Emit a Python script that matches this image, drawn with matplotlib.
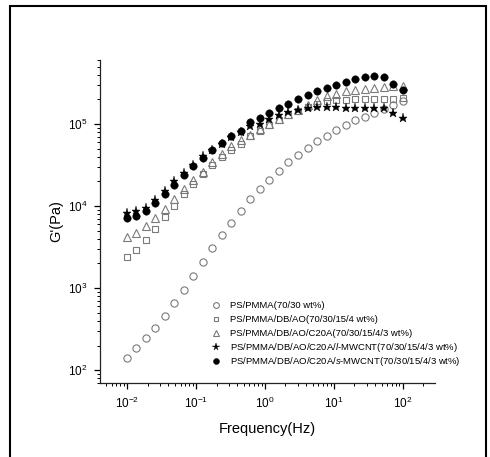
import matplotlib
matplotlib.use("Agg")
import matplotlib.pyplot as plt
from matplotlib.patches import Rectangle
from matplotlib.ticker import LogLocator, NullFormatter

plt.rcParams["font.family"] = ["Liberation Sans", "DejaVu Sans"]
plt.rcParams["mathtext.fontset"] = "custom"
plt.rcParams["mathtext.rm"] = "Liberation Sans"
plt.rcParams["mathtext.it"] = "Liberation Sans:italic"
plt.rcParams["mathtext.default"] = "regular"

# Frequency sweep (Hz)
freq = [0.01, 0.0137, 0.0189, 0.0259, 0.0356, 0.0489, 0.0672, 0.0924, 0.127, 0.174,
        0.239, 0.329, 0.452, 0.621, 0.853, 1.17, 1.61, 2.21, 3.04, 4.18,
        5.74, 7.88, 10.8, 14.9, 20.4, 28.1, 38.6, 53.0, 72.8, 100]

# Storage modulus G' (Pa)
g_blend = [143, 189, 245, 328, 460, 657, 955, 1410, 2090, 3080,
           4430, 6210, 8780, 12200, 16000, 20800, 27000, 34100, 41500, 50500,
           61500, 72100, 84500, 96300, 110800, 122800, 136100, 150900, 170500, 189000]
g_dbao = [2370, 2930, 3880, 5190, 7270, 9920, 14000, 18700, 24800, 31300,
          39200, 48600, 57500, 70800, 81500, 96300, 110800, 127600, 142700, 161000,
          175300, 189000, 198000, 198000, 202000, 202000, 202000, 202000, 202000, 210000]
g_c20a = [4190, 4690, 5650, 7140, 9190, 12200, 16300, 20900, 26000, 34400,
          43000, 53400, 63900, 74200, 87000, 101000, 116000, 133600, 149500, 172000,
          198000, 217500, 234400, 250300, 262300, 265000, 272300, 280000, 287700, 293000]
g_lmwcnt = [8230, 8610, 9460, 11900, 15100, 20000, 25300, 31900, 40300, 48700,
            57500, 69400, 79100, 93700, 101000, 115000, 130000, 138800, 149500, 156800,
            161000, 161000, 161000, 158000, 157000, 155000, 155000, 155000, 136000, 118000]
g_smwcnt = [7140, 7490, 8610, 10900, 14000, 18200, 24100, 30500, 38100, 47800,
            58700, 72100, 83000, 105800, 118400, 136100, 156800, 177200, 203600, 228000,
            250300, 274800, 301700, 328300, 353800, 374300, 388400, 370700, 307800, 262300]

labels = [
    "PS/PMMA(70/30 wt%)",
    "PS/PMMA/DB/AO(70/30/15/4 wt%)",
    "PS/PMMA/DB/AO/C20A(70/30/15/4/3 wt%)",
    r"PS/PMMA/DB/AO/C20A/$\mathit{l}$-MWCNT(70/30/15/4/3 wt%)",
    r"PS/PMMA/DB/AO/C20A/$\mathit{s}$-MWCNT(70/30/15/4/3 wt%)",
]

fig = plt.figure(figsize=(4.9, 4.57), dpi=100)
ax = fig.add_axes([100 / 490, 1 - 383 / 457, 335 / 490, 323 / 457])

grey = "#7a7a7a"
styles = [
    dict(marker="o", mfc="none", mec=grey, ms=5.2, mew=0.8),
    dict(marker="s", mfc="none", mec=grey, ms=4.4, mew=0.8),
    dict(marker="^", mfc="none", mec=grey, ms=5.4, mew=0.8),
    dict(marker="*", mfc="black", mec="black", ms=6.8, mew=0.3),
    dict(marker="o", mfc="black", mec="black", ms=5.4, mew=0.3),
]
data = [g_blend, g_dbao, g_c20a, g_lmwcnt, g_smwcnt]
for vals, style in zip(data, styles):
    ax.plot(freq, vals, linestyle="none", **style)

ax.set_xscale("log")
ax.set_yscale("log")
ax.set_xlim(10 ** -2.39, 10 ** 2.47)
ax.set_ylim(10 ** 1.845, 10 ** 5.78)

for s in ("top", "right"):
    ax.spines[s].set_visible(False)
for s in ("left", "bottom"):
    ax.spines[s].set_linewidth(0.9)
    ax.spines[s].set_color("#222222")

ax.xaxis.set_major_locator(LogLocator(base=10, numticks=20))
ax.yaxis.set_major_locator(LogLocator(base=10, numticks=20))
ax.xaxis.set_minor_locator(LogLocator(base=10, subs=range(2, 10), numticks=40))
ax.yaxis.set_minor_locator(LogLocator(base=10, subs=range(2, 10), numticks=40))
ax.xaxis.set_minor_formatter(NullFormatter())
ax.yaxis.set_minor_formatter(NullFormatter())
ax.tick_params(which="major", direction="out", length=4, width=0.9, labelsize=8.5, pad=5)
ax.tick_params(which="minor", direction="out", length=2.2, width=0.7)

ax.set_xlabel("Frequency(Hz)", fontsize=10.5, labelpad=8)
ax.set_ylabel("G'(Pa)", fontsize=10.5)
ax.yaxis.set_label_coords(-0.11, 0.5)

# Key: rows laid out on a common baseline grid (axes fractions)
key_marker_x, key_text_x = 0.346, 0.388
key_top, key_step = 0.2415, 0.0433
baseline_shift = 0.0105
for i, (lab, style) in enumerate(zip(labels, styles)):
    y = key_top - i * key_step
    st = dict(style)
    st["ms"] = style["ms"] * 0.8
    ax.plot([key_marker_x], [y], transform=ax.transAxes, clip_on=False,
            linestyle="none", **st)
    ax.text(key_text_x, y - baseline_shift, lab, transform=ax.transAxes,
            fontsize=6.8, va="baseline", ha="left")

fig.patches.append(Rectangle((10 / 490, -0.05), 476 / 490, 1 - 6 / 457 + 0.05,
                             transform=fig.transFigure, fill=False,
                             edgecolor="black", linewidth=1.5))

fig.savefig("out.png", dpi=100)
